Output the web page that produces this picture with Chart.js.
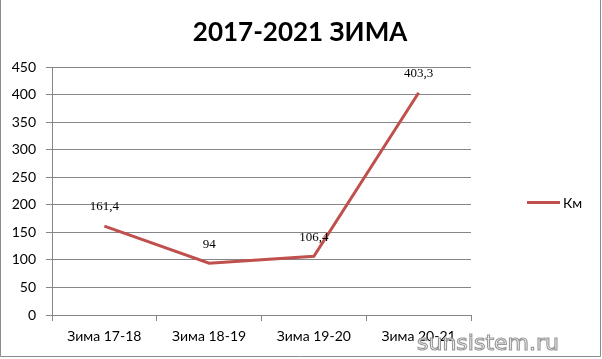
<!DOCTYPE html>
<html>
<head>
<meta charset="utf-8">
<script src="https://cdn.jsdelivr.net/npm/chart.js@4/dist/chart.umd.min.js"></script>
<style>
  html, body { margin: 0; padding: 0; background: #fff; }
  #wrap { width: 602px; height: 359px; }
</style>
</head>
<body>
<div id="wrap"><canvas id="chart" width="602" height="359"></canvas></div>
<script>
const categories = ['Зима 17-18', 'Зима 18-19', 'Зима 19-20', 'Зима 20-21'];
const kmValues = [161.4, 94, 106.4, 403.3];
const seriesName = 'Км';
const chartTitle = '2017-2021 ЗИМА';
const watermark = 'sunsistem.ru';

const lineColor = '#c0504d';
const gridColor = '#868686';

// title, data labels, legend, frame and watermark drawn by hand
const extras = {
  id: 'extras',
  afterDatasetsDraw(chart) {
    const ctx = chart.ctx;
    const meta = chart.getDatasetMeta(0);
    ctx.save();

    // title centred on the whole canvas
    ctx.fillStyle = '#000';
    ctx.font = 'bold 26px Lato';
    ctx.textAlign = 'center';
    ctx.textBaseline = 'middle';
    ctx.fillText(chartTitle, 300, 33);

    ctx.font = '13px "Liberation Serif"';
    meta.data.forEach((pt, i) => {
      ctx.fillText(kmValues[i].toString().replace('.', ','), pt.x, pt.y - 19);
    });

    // legend
    ctx.strokeStyle = lineColor;
    ctx.lineWidth = 3;
    ctx.beginPath();
    ctx.moveTo(527, 202.5);
    ctx.lineTo(560, 202.5);
    ctx.stroke();
    ctx.font = '14px Lato';
    ctx.textAlign = 'left';
    ctx.fillText(seriesName, 563, 203);

    // frame
    ctx.strokeStyle = '#8c8c8c';
    ctx.lineWidth = 1;
    ctx.beginPath();
    ctx.moveTo(0.5, 0);
    ctx.lineTo(0.5, 356.5);
    ctx.lineTo(600.5, 356.5);
    ctx.lineTo(600.5, 0);
    ctx.stroke();

    // watermark
    ctx.font = '22px "DejaVu Sans"';
    ctx.fillStyle = 'rgba(255,255,255,0.85)';
    ctx.strokeStyle = '#9a9a9a';
    ctx.lineWidth = 1.2;
    ctx.fillText(watermark, 417, 344);
    ctx.strokeText(watermark, 417, 344);
    ctx.restore();
  }
};

new Chart(document.getElementById('chart'), {
  type: 'line',
  data: {
    labels: categories,
    datasets: [{
      label: seriesName,
      data: kmValues,
      borderColor: lineColor,
      borderWidth: 3,
      pointRadius: 0,
      pointHoverRadius: 0,
      tension: 0
    }]
  },
  options: {
    responsive: false,
    animation: false,
    layout: { padding: { left: 0, right: 131, top: 67, bottom: 0 } },
    plugins: {
      legend: { display: false },
      tooltip: { enabled: false },
      title: { display: false }
    },
    scales: {
      x: {
        offset: true,
        grid: { display: true, drawOnChartArea: false, drawTicks: true, tickLength: 6, color: gridColor, offset: true },
        border: { display: true, color: gridColor },
        ticks: { color: '#000', font: { family: 'Lato', size: 14 }, padding: 7, maxRotation: 0 },
        afterFit(scale) { scale.height = 44; }
      },
      y: {
        min: 0,
        max: 450,
        ticks: { stepSize: 50, color: '#000', font: { family: 'Lato', size: 14 }, padding: 10 },
        grid: { color: gridColor, tickLength: 6 },
        border: { display: true, color: gridColor },
        afterFit(scale) { scale.width = 52; }
      }
    }
  },
  plugins: [extras]
});
</script>
</body>
</html>
